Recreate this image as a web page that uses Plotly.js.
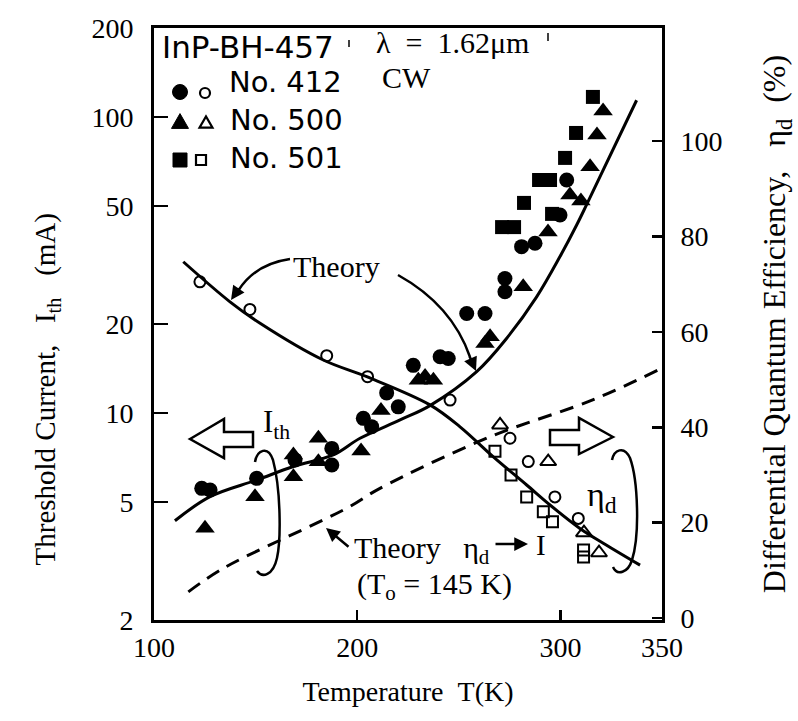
<!DOCTYPE html>
<html>
<head>
<meta charset="utf-8">
<script src="https://cdn.plot.ly/plotly-3.0.1.min.js"></script>
<style>html,body{margin:0;padding:0;background:#fff;}#chart{width:798px;height:721px;}</style>
</head>
<body>
<div id="chart"></div>
<script>
// ---------------- data ----------------
// Threshold current I_th (mA), filled markers, left log axis
const temp412 = [123.5,127.6,150.5,169.4,187.5,187.5,203.0,207.1,220.2,214.5,227.6,240.8,244.8,253.9,262.9,272.7,272.7,280.9,287.5,299.8,303.1];
const ith412  = [5.57,5.50,6.02,6.95,7.60,6.68,9.60,9.00,10.5,11.7,14.5,15.5,15.3,21.7,21.7,28.5,25.7,36.5,37.5,46.7,61.3];
const temp500 = [125.1,149.7,168.6,168.6,180.9,180.9,201.9,211.7,230.1,233.4,237.5,262.9,265.4,281.7,293.9,304.7,310.1,314.6,318.0,321.0];
const ith500  = [4.08,5.22,7.22,6.10,8.22,6.85,7.45,10.2,12.9,13.3,12.9,17.2,18.1,26.7,40.9,54.6,52.1,68.0,87.0,104.9];
const temp501 = [271.3,277.2,282.1,289.5,294.9,295.9,302.3,307.7,316.0];
const ith501  = [42.5,42.5,51.3,61.3,61.3,47.1,72.8,88.4,117];
// Differential quantum efficiency eta_d (%), open markers, right axis
const tEta412 = [122.6,147.2,185.0,205.1,245.7,275.2,284.2,297.3,308.8];
const eta412  = [70.5,64.7,55.0,50.6,45.7,37.7,32.8,25.4,20.9];
const tEta500 = [270.3,294.0,311.6,319.0];
const eta500  = [40.5,32.8,17.9,13.7];
const tEta501 = [267.8,275.7,283.4,291.6,296.1,311.4,311.4];
const eta501  = [35.0,30.0,25.4,22.3,20.2,14.3,12.8];
// Theory curves
const tTheoryIth = [110.3,127.6,150.5,168.6,188.2,201.4,221.1,235.8,258.8,273.6,288.3,299.8,308.0,313.2,337.5];
const theoryIth  = [4.33,5.22,5.94,6.60,7.22,8.22,9.48,10.6,13.8,17.9,24.7,33.8,43.2,51.1,114];
const tTheoryEta = [114.4,137.4,152.2,183.3,204.7,235.8,250.6,267.0,283.4,294.9,309.6,321.1,339.2];
const theoryEta  = [74.7,66.3,61.8,54.1,50.6,44.7,40.1,33.8,27.9,23.7,18.8,15.7,11.1];
const tTheoryDash = [116.9,134.1,194.8,211.2,265.4,316.2,348.2];
const theoryDash  = [2.49,2.99,4.77,5.57,8.32,11.1,14.0];
// ticks
const xTicks = [100,200,300,350];
const leftTicks = [2,5,10,20,50,100,200];
const rightTicks = [0,20,40,60,80,100];

// ---------------- layout helpers ----------------
const L=154, R=662, T=28, B=620;
const SERIF = 'Liberation Serif, Times New Roman, serif';
const SANS = 'DejaVu Sans, Arial, sans-serif';
const EM = '\u2003', EN = '\u2002', ZW = '\u200B';
function px(x){return (x-L)/(R-L);}
function py(y){return (B-y)/(B-T);}
function pth(s){return s.replace(/(-?\d+\.?\d*),(-?\d+\.?\d*)/g,(m,a,b)=>px(+a).toFixed(5)+','+py(+b).toFixed(5));}
function ann(text,x,y,size,family,xanchor,yanchor){
  return {xref:'paper',yref:'paper',x:px(x),y:py(y),text:text,showarrow:false,
    xanchor:xanchor||'left',yanchor:yanchor||'middle',font:{family:family||SERIF,size:size,color:'#000'}};
}
function arrow(tx,ty,fx,fy,w){
  return {xref:'paper',yref:'paper',x:px(tx),y:py(ty),ax:fx-tx,ay:fy-ty,text:'',showarrow:true,
    arrowhead:2,arrowsize:1.1,arrowwidth:w||2.5,arrowcolor:'#000',standoff:0,startstandoff:0};
}
const lineBlk = {color:'#000',width:2.5};
function pathShape(s,fill){return {type:'path',xref:'paper',yref:'paper',path:pth(s),line:lineBlk,fillcolor:fill||'rgba(0,0,0,0)'};}
function circ(cx,cy,r,filled){return {type:'circle',xref:'paper',yref:'paper',x0:px(cx-r),x1:px(cx+r),y0:py(cy+r),y1:py(cy-r),
  line:{color:'#000',width:filled?1:2.2},fillcolor:filled?'#000':'#fff'};}
function tri(cx,cy,s,filled){const h=s*0.87;return {type:'path',xref:'paper',yref:'paper',
  path:pth(`M${cx-s/2},${cy+h/2} L${cx+s/2},${cy+h/2} L${cx},${cy-h/2} Z`),line:{color:'#000',width:filled?1:2.2},fillcolor:filled?'#000':'#fff'};}
function sq(cx,cy,s,filled){return {type:'rect',xref:'paper',yref:'paper',x0:px(cx-s/2),x1:px(cx+s/2),y0:py(cy+s/2),y1:py(cy-s/2),
  line:{color:'#000',width:filled?1:2.2},fillcolor:filled?'#000':'#fff'};}

// ---------------- traces ----------------
const traces = [
  {x:tTheoryIth,y:theoryIth,mode:'lines',line:{color:'#000',width:3,shape:'spline'},yaxis:'y',hoverinfo:'skip'},
  {x:tTheoryDash,y:theoryDash,mode:'lines',line:{color:'#000',width:3,dash:'14px,9px',shape:'spline'},yaxis:'y',hoverinfo:'skip'},
  {x:tTheoryEta,y:theoryEta,mode:'lines',line:{color:'#000',width:3,shape:'spline'},yaxis:'y2',hoverinfo:'skip'},
  {x:temp412,y:ith412,mode:'markers',marker:{symbol:'circle',size:15,color:'#000'},yaxis:'y',name:'No. 412'},
  {x:temp500,y:ith500,mode:'markers',marker:{symbol:'triangle-up',size:17,color:'#000'},yaxis:'y',name:'No. 500'},
  {x:temp501,y:ith501,mode:'markers',marker:{symbol:'square',size:14,color:'#000'},yaxis:'y',name:'No. 501'},
  {x:tEta412,y:eta412,mode:'markers',marker:{symbol:'circle-open',size:11,color:'#000',line:{width:2}},yaxis:'y2',name:'No. 412 eta'},
  {x:tEta500,y:eta500,mode:'markers',marker:{symbol:'triangle-up-open',size:14,color:'#000',line:{width:2}},yaxis:'y2',name:'No. 500 eta'},
  {x:tEta501,y:eta501,mode:'markers',marker:{symbol:'square-open',size:11,color:'#000',line:{width:2}},yaxis:'y2',name:'No. 501 eta'}
];

const axisCommon = {showgrid:false,zeroline:false,showline:true,linecolor:'#000',linewidth:3,ticks:'inside',tickcolor:'#000',tickwidth:2.5};

const layout = {
  width:798,height:721,
  margin:{l:L,r:798-R,t:T,b:721-B,pad:0},
  paper_bgcolor:'#fff',plot_bgcolor:'#fff',
  showlegend:false,
  xaxis:Object.assign({},axisCommon,{
    range:[100,350],tickvals:xTicks,ticktext:xTicks.map(String),ticklen:10,mirror:true,
    tickfont:{family:SERIF,size:28,color:'#000'},
    title:{text:'Temperature'+EN+'T(K)',font:{family:SERIF,size:28,color:'#000'},standoff:20}
  }),
  yaxis:Object.assign({},axisCommon,{
    type:'log',range:[Math.log10(2),Math.log10(200)],tickvals:leftTicks,ticktext:leftTicks.map(String),ticklen:14,
    tickfont:{family:SERIF,size:28,color:'#000'},ticklabelstandoff:12,
    title:{text:'Threshold Current,'+EN+' I<sub>th</sub> '+EN+'(mA)'+EM+EM+EM+EM+EN+ZW,font:{family:SERIF,size:29,color:'#000'},standoff:28}
  }),
  yaxis2:Object.assign({},axisCommon,{
    overlaying:'y',side:'right',range:[-0.4,123.7],tickvals:rightTicks,ticktext:rightTicks.map(String),ticklen:10,
    tickfont:{family:SERIF,size:28,color:'#000'},ticklabelstandoff:10,
    title:{text:'Differential Quantum Efficiency,'+EN+' η<sub>d</sub>'+EN+'(%)',font:{family:SERIF,size:32,color:'#000'},standoff:42}
  }),
  annotations:[
    ann('InP-BH-457',160,47,31,SANS),
    ann('No. 412',227,82,29,SANS),
    ann('No. 500',228,120,29,SANS),
    ann('No. 501',228,158,29,SANS),
    ann('λ'+EN+'='+EN+'1.62μm',374,42,30,SERIF),
    ann('CW',380,77,30,SERIF),
    ann('Theory',336,266,30,SERIF,'center'),
    ann('I<sub>th</sub>',261,424,31,SERIF),
    ann('η<sub>d</sub>',585,497,34,SERIF),
    ann('Theory '+EN+'η<sub>d</sub>',352,550,30,SERIF),
    ann('I',541,545,29,SERIF,'center'),
    ann('(T<sub>o</sub> = 145 K)',355,586,30,SERIF),
    arrow(326,528,350,548,2.5),
    arrow(528,544,494,544,2.5),
    arrow(231,300,240,287,2.5),
    arrow(476,371,469,355,2.5)
  ],
  shapes:[
    // hollow arrows
    pathShape('M190,439 L224,419 L224,432 L253,432 L253,447 L224,447 L224,458 Z','#fff'),
    pathShape('M613,437 L579,418 L579,430 L550,430 L550,445 L579,445 L579,454 Z','#fff'),
    // brackets
    pathShape('M255,462 C257,450 268,445 273,460 C281,490 281,540 277,558 C273,576 262,578 257,571'),
    pathShape('M612,460 C614,450 624,445 630,458 C638,480 640,535 632,560 C628,573 617,576 613,567'),
    // arrow shafts from "Theory"
    pathShape('M290,259 Q255,264 238,291'),
    pathShape('M398,275 Q452,305 470,357'),
    // small marks
    {type:'line',xref:'paper',yref:'paper',x0:px(349),x1:px(349),y0:py(40),y1:py(47),line:{color:'#000',width:1.5}},
    {type:'line',xref:'paper',yref:'paper',x0:px(548),x1:px(548),y0:py(33),y1:py(41),line:{color:'#000',width:1.5}},
    // legend symbols
    circ(180,92,7.5,true), circ(205,93,5,false),
    tri(180,121,17,true), tri(206,122,13,false),
    sq(180,160,14,true), sq(201,160,10,false)
  ]
};

Plotly.newPlot('chart',traces,layout,{displayModeBar:false,staticPlot:true});
</script>
</body>
</html>
